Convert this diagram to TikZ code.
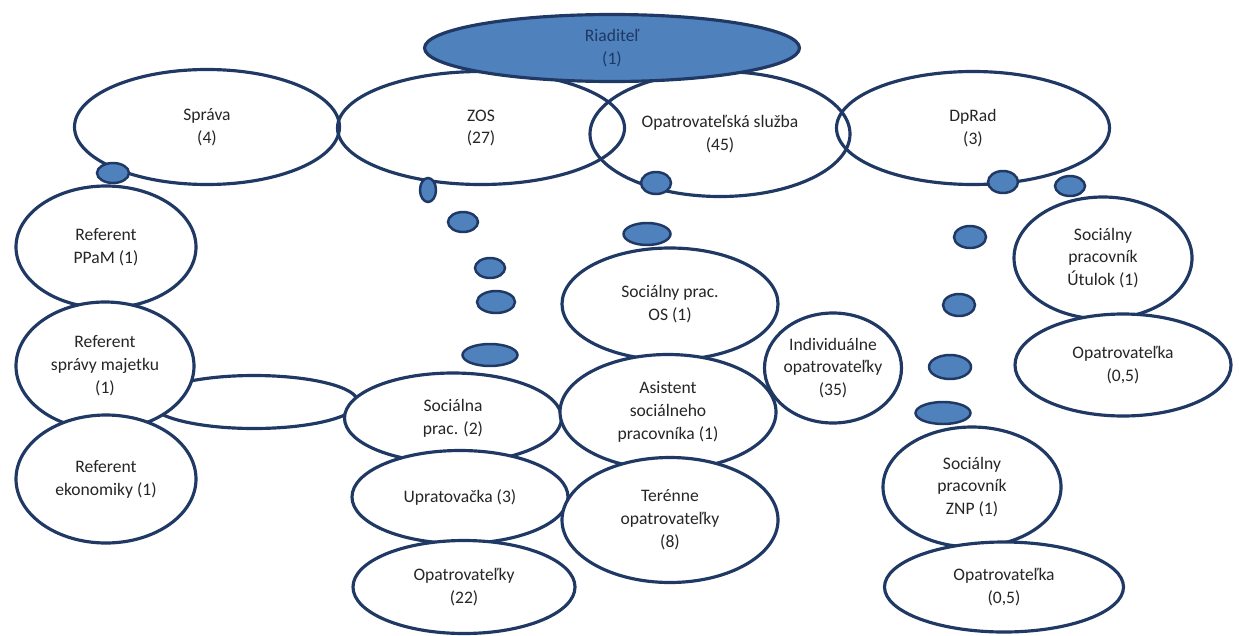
\documentclass[tikz,border=0pt]{standalone}
\usepackage{fontspec}
\setmainfont{Carlito}
\usepackage{tikz}
\usetikzlibrary{shapes.geometric}
\definecolor{navy}{RGB}{31,56,100}
\definecolor{officeblue}{RGB}{79,129,189}
\definecolor{inkgray}{RGB}{38,38,38}

\begin{document}
\begin{tikzpicture}[x=0.02cm,y=-0.02cm,
	oval/.style 2 args={ellipse,draw=navy,line width=1.8pt,fill=white,
		minimum width=#1*0.02cm,minimum height=#2*0.02cm,inner sep=0pt,
		align=center,text=inkgray,font=\fontsize{10}{13}\selectfont},
	hollow/.style={fill=none},
	dot/.style 2 args={ellipse,draw=navy,line width=1.4pt,fill=officeblue,
		minimum width=#1*0.02cm,minimum height=#2*0.02cm,inner sep=0pt}]
			\useasboundingbox (0,0) rectangle (1239,635);
			
			\node[oval={265}{115},hollow] (sprava) at (207,127) {Správa\\(4)};
			\node[oval={287}{113},hollow] (zos) at (481,128) {ZOS\\(27)};
			\node[oval={260}{125},hollow] (os) at (720,134) {Opatrovateľská služba\\(45)};
			\node[oval={273}{113},hollow] (dprad) at (973,128) {DpRad\\(3)};
			\node[oval={375}{67},fill=officeblue,text=navy] (riad) at (612,48) {Riaditeľ\\(1)};
			
			\node[oval={208}{53}] (spojka) at (254,402) {};
			\node[oval={180}{122}] (ppam) at (106,247) {Referent\\PPaM (1)};
			\node[oval={178}{128}] (majetok) at (105,366) {Referent\\správy majetku\\(1)};
			\node[oval={180}{128}] (ekon) at (106,479) {Referent\\ekonomiky (1)};
			
			\node[oval={217}{90}] (socprac) at (453,418) {Sociálna\\prac. (2)};
			\node[oval={216}{93}] (uprat) at (460,497) {Upratovačka (3)};
			\node[oval={222}{93}] (opatr) at (464,587) {Opatrovateľky\\(22)};
			
			\node[oval={137}{110},inner sep=-3pt] (indiv) at (833,368) {Individuálne\\opatrovateľky\\(35)};
			\node[oval={216}{112}] (socos) at (670,304) {Sociálny prac.\\OS (1)};
			\node[oval={216}{115}] (asist) at (668,412) {Asistent\\sociálneho\\pracovníka (1)};
			\node[oval={216}{125}] (teren) at (670,520) {Terénne\\opatrovateľky\\(8)};
			
			\node[oval={178}{122}] (utulok) at (1103,258) {Sociálny\\pracovník\\Útulok (1)};
			\node[oval={216}{102}] (opU) at (1123,365) {Opatrovateľka\\(0,5)};
			\node[oval={178}{120}] (znp) at (972,487) {Sociálny\\pracovník\\ZNP (1)};
			\node[oval={239}{90}] (opZ) at (1004,587) {Opatrovateľka\\(0,5)};
			
			\foreach \x/\y/\w/\h [count=\i] in {113/173/32/20, 428/190/16/24, 463/222/30/20,
				490/268/30/20, 496/302/38/22, 490/355/55/22, 656/183/30/22, 647/234/47/22,
				1003/182/30/22, 1070/186/30/20, 970/237/32/22, 959/305/32/22,
				950/367/42/24, 943/413/55/22} {
				\node[dot={\w}{\h}] (D\i) at (\x,\y) {};
			}
		\end{tikzpicture}
\end{document}
